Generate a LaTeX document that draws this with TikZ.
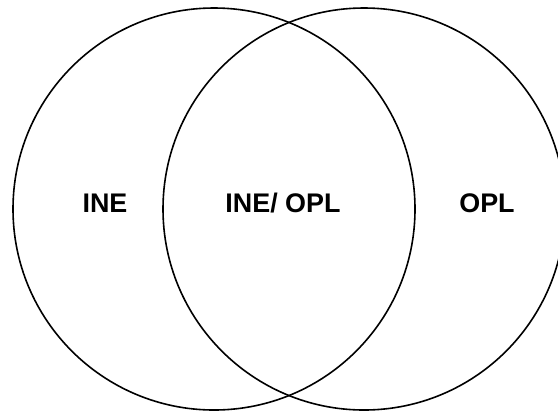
\documentclass[tikz,border=0pt]{standalone}
\usepackage{fontspec}
\setmainfont{Liberation Sans}
\usepackage{tikz}
\tikzstyle{setcircle}=[circle,draw,line width=1.6pt,minimum size=402bp,inner sep=0pt]
\tikzstyle{setlabel}=[font=\bfseries\fontsize{27}{31}\selectfont]

\begin{document}
\begin{tikzpicture}[x=1bp,y=-1bp]
	\clip (0,0) rectangle (558,411);
	\useasboundingbox (0,0) rectangle (558,411);

	% First we draw the two sets
	\foreach \pos/\name in {{(214,209)/ine}, {(364,209)/opl}}
	\node[setcircle] (\name) at \pos {};

	% Then the labels of the regions
	\node[setlabel] (inelabel) at (105,203) {INE};
	\node[setlabel] (bothlabel) at (283,203) {INE/ OPL};
	\node[setlabel] (opllabel) at (487,203) {OPL};
\end{tikzpicture}
\end{document}
